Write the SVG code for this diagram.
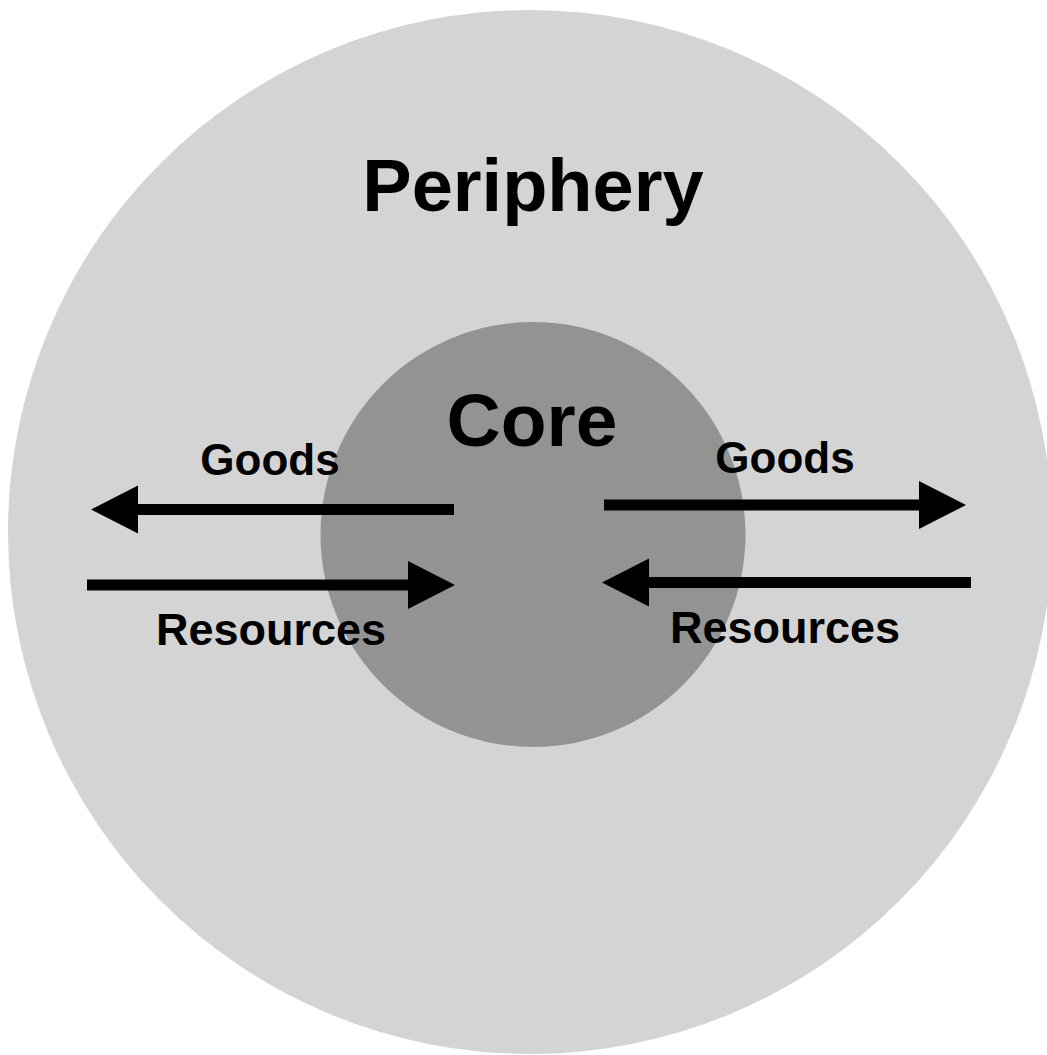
<svg xmlns="http://www.w3.org/2000/svg" width="1047" height="1055" viewBox="0 0 1047 1055">
  <style>
    .label { font-family: "Liberation Sans", Arial, Helvetica, sans-serif; font-weight: bold; fill: #000; text-anchor: middle; }
    .flow { stroke: #000; stroke-width: 11; fill: none; marker-end: url(#head); }
  </style>
  <defs>
    <marker id="head" markerUnits="userSpaceOnUse" markerWidth="48" markerHeight="50" refX="0" refY="24" orient="auto" viewBox="0 0 48 48" overflow="visible">
      <path d="M0,0 L47,24 L0,48 Z" fill="#000"/>
    </marker>
  </defs>
  <rect width="1047" height="1055" fill="#fff"/>

  <g id="periphery">
    <circle cx="530" cy="532" r="522" fill="#d4d4d4"/>
    <text class="label" x="533" y="211" font-size="74">Periphery</text>
  </g>

  <g id="core">
    <circle cx="533" cy="534.5" r="212.5" fill="#939393"/>
    <text class="label" x="532" y="446" font-size="75">Core</text>
  </g>

  <g id="connectors">
    <line class="flow" x1="454" y1="509.5" x2="138" y2="509.5"/>
    <line class="flow" x1="87" y1="585" x2="408" y2="585"/>
    <line class="flow" x1="604" y1="505" x2="919" y2="505"/>
    <line class="flow" x1="971" y1="582.5" x2="649" y2="582.5"/>
  </g>

  <g id="flow-labels">
    <text class="label" x="270" y="475" font-size="44">Goods</text>
    <text class="label" x="785" y="473" font-size="44">Goods</text>
    <text class="label" x="271" y="645" font-size="45">Resources</text>
    <text class="label" x="785" y="643" font-size="45">Resources</text>
  </g>
</svg>
